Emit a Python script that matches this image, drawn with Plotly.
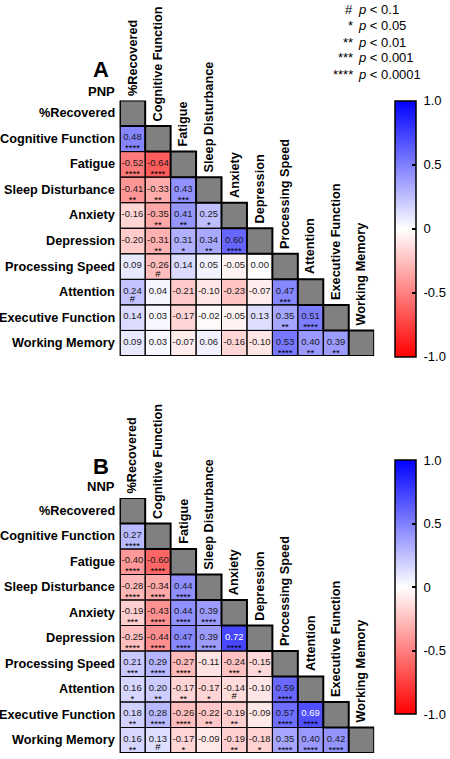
import plotly.graph_objects as go

variables = ["%Recovered", "Cognitive Function", "Fatigue", "Sleep Disturbance", "Anxiety",
             "Depression", "Processing Speed", "Attention", "Executive Function", "Working Memory"]

pnp_values = [
    [],
    [0.48],
    [-0.52, -0.64],
    [-0.41, -0.33, 0.43],
    [-0.16, -0.35, 0.41, 0.25],
    [-0.20, -0.31, 0.31, 0.34, 0.60],
    [0.09, -0.26, 0.14, 0.05, -0.05, 0.00],
    [0.24, 0.04, -0.21, -0.10, -0.23, -0.07, 0.47],
    [0.14, 0.03, -0.17, -0.02, -0.05, 0.13, 0.35, 0.51],
    [0.09, 0.03, -0.07, 0.06, -0.16, -0.10, 0.53, 0.40, 0.39],
]
pnp_sig = [
    [],
    ["****"],
    ["****", "****"],
    ["**", "**", "***"],
    ["", "**", "**", "*"],
    ["", "**", "*", "**", "****"],
    ["", "#", "", "", "", ""],
    ["#", "", "", "", "", "", "***"],
    ["", "", "", "", "", "", "**", "****"],
    ["", "", "", "", "", "", "****", "**", "**"],
]
nnp_values = [
    [],
    [0.27],
    [-0.40, -0.60],
    [-0.28, -0.34, 0.44],
    [-0.19, -0.43, 0.44, 0.39],
    [-0.25, -0.44, 0.47, 0.39, 0.72],
    [0.21, 0.29, -0.27, -0.11, -0.24, -0.15],
    [0.16, 0.20, -0.17, -0.17, -0.14, -0.10, 0.59],
    [0.18, 0.28, -0.26, -0.22, -0.19, -0.09, 0.57, 0.69],
    [0.16, 0.13, -0.17, -0.09, -0.19, -0.18, 0.35, 0.40, 0.42],
]
nnp_sig = [
    [],
    ["****"],
    ["****", "****"],
    ["****", "****", "****"],
    ["***", "****", "****", "****"],
    ["****", "****", "****", "****", "****"],
    ["***", "****", "****", "", "***", "*"],
    ["*", "**", "**", "*", "#", "", "****"],
    ["**", "****", "****", "**", "**", "", "****", "****"],
    ["**", "#", "*", "", "**", "*", "****", "****", "****"],
]
colorbar_ticks = [-1.0, -0.5, 0.0, 0.5, 1.0]
colorbar_ticktext = ["-1.0", "-0.5", "0", "0.5", "1.0"]
sig_legend_marks = ["#", "*", "**", "***", "****"]
sig_legend_levels = ["0.1", "0.05", "0.01", "0.001", "0.0001"]

W, H = 450, 759
FONT = "Liberation Sans, Arial, sans-serif"
n = len(variables)

fig = go.Figure()

panels = [
    dict(values=pnp_values, sig=pnp_sig, xa="x", ya="y", letter="A", group="PNP",
         cb_top=100.5, cb_len=255.5, letter_y=70, group_y=91.5),
    dict(values=nnp_values, sig=nnp_sig, xa="x2", ya="y2", letter="B", group="NNP",
         cb_top=460, cb_len=254, letter_y=466.5, group_y=486.5),
]

shapes = []
annotations = []

for p in panels:
    vals, sig = p["values"], p["sig"]
    z = [[None] * n for _ in range(n)]
    for i in range(n):
        for j in range(i):
            z[i][j] = vals[i][j]
    fig.add_trace(go.Heatmap(
        z=z, x=list(range(n)), y=list(range(n)), xaxis=p["xa"], yaxis=p["ya"],
        zmin=-1, zmax=1,
        colorscale=[[0, "#FF0000"], [0.5, "#FFFFFF"], [1, "#0000FF"]],
        hoverongaps=False,
        colorbar=dict(
            x=395 / W, xanchor="left", xpad=0, ypad=0,
            y=1 - p["cb_top"] / H, yanchor="top",
            len=p["cb_len"], lenmode="pixels",
            thickness=21, thicknessmode="pixels",
            outlinewidth=1.5, outlinecolor="black",
            tickvals=colorbar_ticks,
            ticktext=["\u00a0" + t for t in colorbar_ticktext],
            ticks="inside", ticklen=4, tickcolor="black", tickwidth=1.5,
            tickfont=dict(family=FONT, size=13, color="black"),
        ),
    ))
    tx, ty, tt, tc = [], [], [], []
    mx, my, mt = [], [], []
    for i in range(n):
        for j in range(i):
            v = vals[i][j]
            tx.append(j); ty.append(i - 0.03)
            tt.append(f"{v:.2f}")
            tc.append("white" if abs(v) >= 0.65 else "#1a1a1a")
            s = sig[i][j]
            if s:
                mx.append(j)
                my.append(i + (0.30 if s == "#" else 0.40))
                mt.append(s)
    fig.add_trace(go.Scatter(x=tx, y=ty, text=tt, mode="text", xaxis=p["xa"], yaxis=p["ya"],
                             textfont=dict(family=FONT, size=9.5, color=tc),
                             hoverinfo="skip", showlegend=False))
    fig.add_trace(go.Scatter(x=mx, y=my, text=mt, mode="text", xaxis=p["xa"], yaxis=p["ya"],
                             textfont=dict(family=FONT, size=9.5, color="#000000"),
                             hoverinfo="skip", showlegend=False))

    xref, yref = p["xa"], p["ya"]
    for i in range(n):
        for j in range(i):
            shapes.append(dict(type="rect", xref=xref, yref=yref,
                               x0=j - 0.5, x1=j + 0.5, y0=i - 0.5, y1=i + 0.5,
                               line=dict(color="black", width=1), layer="above"))
        shapes.append(dict(type="rect", xref=xref, yref=yref,
                           x0=i - 0.5, x1=i + 0.5, y0=i - 0.5, y1=i + 0.5,
                           fillcolor="#808080", line=dict(color="black", width=2), layer="above"))
    shapes.append(dict(type="path", xref=xref, yref=yref,
                       path=f"M -0.5 -0.5 L -0.5 {n - 0.5} L {n - 0.5} {n - 0.5}",
                       line=dict(color="black", width=2.2), layer="above"))

    for i, name in enumerate(variables):
        annotations.append(dict(text=name, xref="paper", x=117 / W, xanchor="right",
                                yref=yref, y=i, yanchor="middle", showarrow=False,
                                font=dict(family=FONT, size=12.7, color="black", weight="bold")))
    for j, name in enumerate(variables):
        annotations.append(dict(text=name, xref=xref, x=j, xanchor="center",
                                yref=yref, y=j - 0.5, yanchor="bottom", yshift=3,
                                textangle=-90, showarrow=False,
                                font=dict(family=FONT, size=12.7, color="black", weight="bold")))
    annotations.append(dict(text=p["letter"], xref="paper", x=101 / W, xanchor="center",
                            yref="paper", y=1 - p["letter_y"] / H, yanchor="middle", showarrow=False,
                            font=dict(family=FONT, size=22, color="black", weight="bold")))
    annotations.append(dict(text=p["group"], xref="paper", x=117 / W, xanchor="right",
                            yref="paper", y=1 - p["group_y"] / H, yanchor="middle", showarrow=False,
                            font=dict(family=FONT, size=13, color="black", weight="bold")))

for k, (mk, lv) in enumerate(zip(sig_legend_marks, sig_legend_levels)):
    yy = 1 - (10 + 16 * k) / H
    annotations.append(dict(text=mk, xref="paper", x=356 / W, xanchor="right",
                            yref="paper", y=yy, yanchor="middle", showarrow=False,
                            font=dict(family=FONT, size=13, color="black")))
    annotations.append(dict(text=f"<i>p</i> &lt; {lv}", xref="paper", x=357 / W, xanchor="left",
                            yref="paper", y=yy, yanchor="middle", showarrow=False,
                            font=dict(family=FONT, size=13, color="black")))


def ax(domain, rng):
    return dict(domain=domain, range=rng, showgrid=False, zeroline=False,
                showticklabels=False, ticks="", showline=False, fixedrange=True)


fig.update_layout(
    width=W, height=H, margin=dict(l=0, r=0, t=0, b=0),
    paper_bgcolor="white", plot_bgcolor="white", showlegend=False,
    xaxis=ax([120 / W, 375 / W], [-0.5, n - 0.5]),
    yaxis=ax([1 - 356 / H, 1 - 100.5 / H], [n - 0.5, -0.5]),
    xaxis2=dict(ax([120 / W, 375 / W], [-0.5, n - 0.5]), anchor="y2"),
    yaxis2=dict(ax([1 - 753 / H, 1 - 498 / H], [n - 0.5, -0.5]), anchor="x2"),
    shapes=shapes, annotations=annotations,
    font=dict(family=FONT, color="black"),
)

fig.write_html("out.html", config={"displayModeBar": False},
               post_script="document.body.style.margin='0';")
